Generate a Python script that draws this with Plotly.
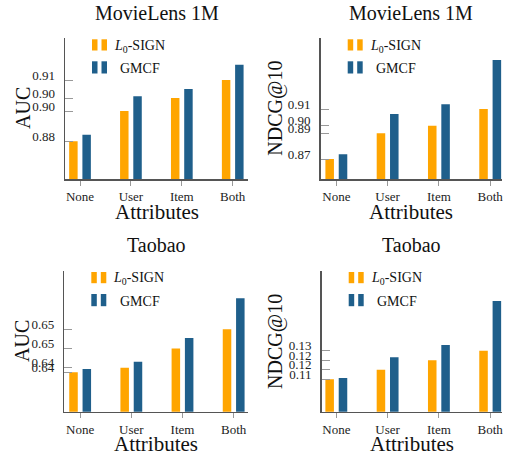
import plotly.graph_objects as go

# ---------------- data ----------------
categories = ["None", "User", "Item", "Both"]

ml_auc_l0 = [0.8835, 0.8956, 0.9008, 0.9080]
ml_auc_gmcf = [0.8861, 0.9015, 0.9044, 0.9141]
ml_auc_ticks = ["0.88", "0.90", "0.90", "0.91"]

ml_ndcg_l0 = [0.8715, 0.8913, 0.8972, 0.9100]
ml_ndcg_gmcf = [0.8752, 0.9062, 0.9136, 0.9477]
ml_ndcg_ticks = ["0.87", "0.89", "0.90", "0.91"]

tb_auc_l0 = [0.6405, 0.6418, 0.6474, 0.6530]
tb_auc_gmcf = [0.6414, 0.6435, 0.6504, 0.6620]
tb_auc_ticks = ["0.64", "0.64", "0.65", "0.65"]

tb_ndcg_l0 = [0.1130, 0.11717, 0.12126, 0.12543]
tb_ndcg_gmcf = [0.11357, 0.12257, 0.12791, 0.14704]
tb_ndcg_ticks = ["0.11", "0.12", "0.12", "0.13"]

titles = ["MovieLens 1M", "MovieLens 1M", "Taobao", "Taobao"]
ylabels = ["AUC", "NDCG@10", "AUC", "NDCG@10"]
xlabel = "Attributes"
series_names = ["<i>L</i><sub>0</sub>-SIGN", "GMCF"]

# ---------------- style ----------------
W, H = 508, 457
ORANGE = "#FFA500"
BLUE = "#1f5f8b"
FONT = "Liberation Serif"
SPINE = "#555555"
TICKC = "#999999"

# panel boxes in pixels: left, right, top, bottom; ylabel offset
panels = [
    dict(L=65, R=248, T=38, B=179, yr=[0.8684, 0.9248], xr=[-0.295, 3.30], yl=41.5),
    dict(L=320.7, R=502, T=38, B=179, yr=[0.8562, 0.9646], xr=[-0.305, 3.23], yl=45.5),
    dict(L=64.3, R=248, T=270.7, B=411.7, yr=[0.6290, 0.6700], xr=[-0.31, 3.28], yl=42.5),
    dict(L=321.7, R=502, T=270.7, B=411.7, yr=[0.09891, 0.16022], xr=[-0.285, 3.23], yl=47),
]
data = [
    (ml_auc_l0, ml_auc_gmcf, ml_auc_ticks),
    (ml_ndcg_l0, ml_ndcg_gmcf, ml_ndcg_ticks),
    (tb_auc_l0, tb_auc_gmcf, tb_auc_ticks),
    (tb_ndcg_l0, tb_ndcg_gmcf, tb_ndcg_ticks),
]


def px(x):
    return x / W


def py(y):
    return 1 - y / H


fig = go.Figure()
layout = dict(
    width=W, height=H,
    margin=dict(l=0, r=0, t=0, b=0),
    paper_bgcolor="white", plot_bgcolor="white",
    showlegend=False,
    barmode="group", bargap=0.48, bargroupgap=0.36,
    font=dict(family=FONT, size=13, color="#111"),
)
annotations = []
shapes = []

for i, (p, (l0, gm, tt)) in enumerate(zip(panels, data)):
    n = "" if i == 0 else str(i + 1)
    xa, ya = "x" + n, "y" + n
    fig.add_trace(go.Bar(x=categories, y=l0, marker=dict(color=ORANGE, line=dict(width=0)),
                         xaxis=xa, yaxis=ya, name="L0-SIGN"))
    fig.add_trace(go.Bar(x=categories, y=gm, marker=dict(color=BLUE, line=dict(width=0)),
                         xaxis=xa, yaxis=ya, name="GMCF"))
    layout["xaxis" + n] = dict(
        domain=[px(p["L"]), px(p["R"])], anchor=ya, range=p["xr"],
        showline=True, linecolor=SPINE, linewidth=1.5,
        ticks="outside", ticklen=5, tickcolor=TICKC, tickwidth=1,
        showgrid=False, zeroline=False, fixedrange=True,
        tickfont=dict(family=FONT, size=13, color="#222"),
    )
    layout["yaxis" + n] = dict(
        domain=[py(p["B"]), py(p["T"])], anchor=xa, range=p["yr"],
        showline=True, linecolor=SPINE, linewidth=1.5,
        ticks="inside", ticklen=8, tickcolor=TICKC, tickwidth=1,
        tickvals=l0, ticktext=tt, ticklabelshift=-5, ticklabelstandoff=6,
        showgrid=False, zeroline=False, fixedrange=True,
        tickfont=dict(family=FONT, size=13, color="#222"),
    )
    cx = (p["L"] + p["R"]) / 2
    # title
    annotations.append(dict(x=px(cx), y=py(p["T"] - 25.5), xref="paper", yref="paper",
                            text=titles[i], showarrow=False, xanchor="center", yanchor="middle",
                            font=dict(family=FONT, size=20, color="#111")))
    # x label
    annotations.append(dict(x=px(cx), y=py(p["B"] + 32.5), xref="paper", yref="paper",
                            text=xlabel, showarrow=False, xanchor="center", yanchor="middle",
                            font=dict(family=FONT, size=21, color="#111")))
    # y label
    annotations.append(dict(x=px(p["L"] - p["yl"]), y=py((p["T"] + p["B"]) / 2), xref="paper", yref="paper",
                            text=ylabels[i], showarrow=False, xanchor="center", yanchor="middle",
                            textangle=-90, font=dict(family=FONT, size=20, color="#111")))
    # legend icons (two small bars each) and labels
    for k, (col, y0, y1, tx, tyc) in enumerate([
        (ORANGE, 1.3, 12.5, 47, 8.2),
        (BLUE, 23.3, 35.5, 53.3, 30.5),
    ]):
        for (a, b) in [(27, 32.5), (36.5, 42)]:
            shapes.append(dict(type="rect", xref="paper", yref="paper",
                               x0=px(p["L"] + a), x1=px(p["L"] + b),
                               y0=py(p["T"] + y1), y1=py(p["T"] + y0),
                               fillcolor=col, line=dict(width=0)))
        annotations.append(dict(x=px(p["L"] + tx), y=py(p["T"] + tyc), xref="paper", yref="paper",
                                text=series_names[k], showarrow=False, xanchor="left", yanchor="middle",
                                font=dict(family=FONT, size=14, color="#111")))

layout["annotations"] = annotations
layout["shapes"] = shapes
fig.update_layout(**layout)
fig.write_html("out.html",
               config={"displayModeBar": False, "staticPlot": True},
               post_script="document.body.style.margin='0';document.body.style.overflow='hidden';")
